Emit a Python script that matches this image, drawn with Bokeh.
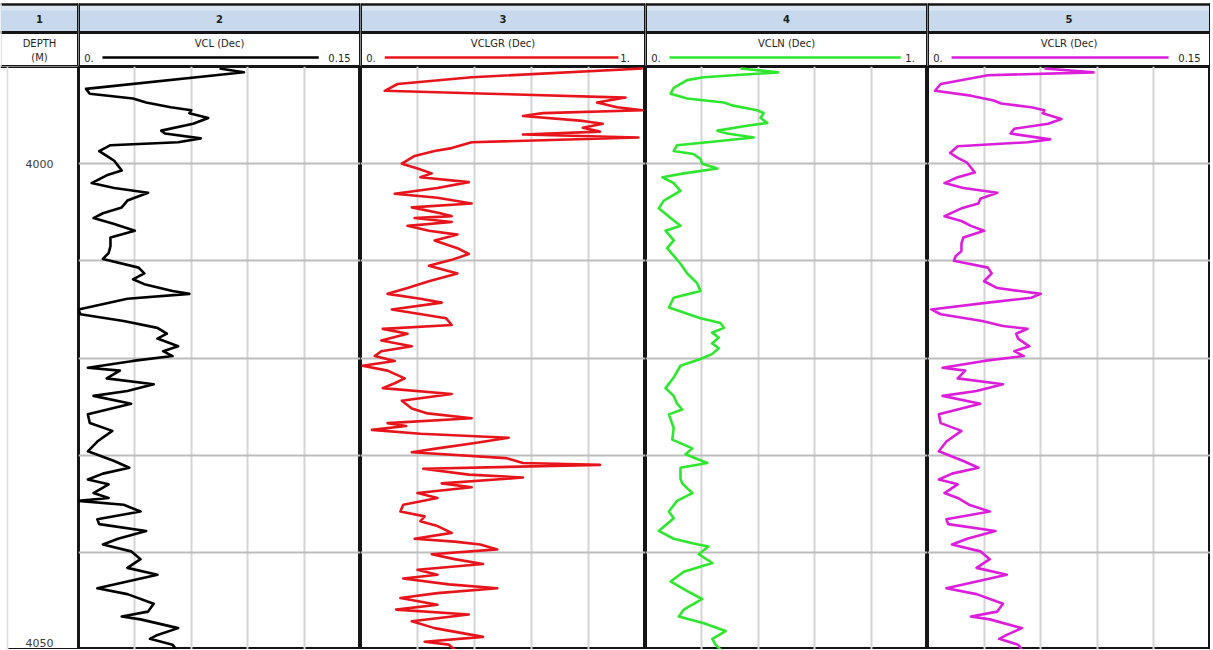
from bokeh.plotting import figure
from bokeh.layouts import row, column
from bokeh.models import Range1d, Grid, FixedTicker
from bokeh.core.properties import value
from bokeh.embed import file_html
from bokeh.resources import INLINE

# ---------------- data ----------------
vcl_depth = [3990.2, 3990.6, 3992.3, 3992.8, 3993.3, 3993.7, 3994.2, 3994.5, 3994.8, 3995.3,
             3995.9, 3996.6, 3996.9, 3997.4, 3997.8, 3998.1, 3998.7, 3999.2, 3999.7, 4000.7,
             4001.2, 4002.0, 4002.5, 4003.0, 4003.8, 4004.5, 4005.1, 4005.6, 4006.2, 4006.9,
             4007.6, 4008.5, 4009.2, 4009.8, 4010.7, 4011.3, 4011.9, 4012.4, 4013.1, 4013.4,
             4013.9, 4015.0, 4015.5, 4016.2, 4016.9, 4017.5, 4018.0, 4018.8, 4019.3, 4019.8,
             4020.3, 4021.0, 4021.3, 4022.1, 4022.7, 4023.4, 4023.9, 4024.7, 4025.8, 4026.7,
             4027.5, 4028.6, 4029.6, 4030.6, 4031.3, 4031.9, 4032.5, 4033.0, 4033.9, 4034.4,
             4034.7, 4035.1, 4035.8, 4036.6, 4037.1, 4037.8, 4038.6, 4039.2, 4039.9, 4040.7,
             4041.6, 4042.3, 4043.0, 4043.7, 4044.3, 4045.3, 4046.1, 4046.6, 4046.9, 4047.8,
             4048.5, 4048.9, 4049.5, 4050.0]
vcl = [0.075, 0.088, 0.004, 0.006, 0.029, 0.036, 0.049, 0.060, 0.059, 0.069,
       0.061, 0.044, 0.046, 0.065, 0.053, 0.017, 0.011, 0.015, 0.019, 0.023,
       0.015, 0.007, 0.019, 0.037, 0.026, 0.023, 0.013, 0.008, 0.019, 0.030,
       0.017, 0.017, 0.016, 0.013, 0.032, 0.035, 0.029, 0.035, 0.050, 0.059,
       0.026, 0.000, 0.001, 0.024, 0.042, 0.047, 0.042, 0.053, 0.045, 0.050,
       0.029, 0.005, 0.022, 0.015, 0.040, 0.026, 0.008, 0.028, 0.005, 0.006,
       0.018, 0.010, 0.005, 0.019, 0.027, 0.013, 0.005, 0.016, 0.008, 0.016,
       0.000, 0.024, 0.033, 0.010, 0.011, 0.036, 0.021, 0.013, 0.028, 0.033,
       0.026, 0.042, 0.026, 0.010, 0.026, 0.040, 0.037, 0.023, 0.033, 0.053,
       0.042, 0.038, 0.050, 0.052]

vclgr_depth = [3990.2, 3991.1, 3991.8, 3992.5, 3992.8, 3993.2, 3993.7, 3994.2, 3994.5, 3994.8,
               3995.1, 3995.6, 3995.9, 3996.3, 3996.7, 3997.0, 3997.3, 3997.8, 3998.4, 3998.7,
               3999.2, 4000.0, 4000.5, 4001.0, 4001.4, 4001.9, 4002.5, 4003.1, 4003.5, 4004.1,
               4004.5, 4005.1, 4005.4, 4005.6, 4006.0, 4006.4, 4006.9, 4007.3, 4007.9, 4008.7,
               4009.3, 4009.9, 4010.5, 4011.3, 4012.1, 4012.8, 4013.4, 4013.9, 4014.3, 4015.0,
               4015.9, 4016.6, 4017.0, 4017.5, 4018.2, 4018.8, 4019.3, 4019.8, 4020.3, 4020.8,
               4021.3, 4022.1, 4022.6, 4023.1, 4023.7, 4024.4, 4025.2, 4025.7, 4026.2, 4026.7,
               4027.0, 4027.4, 4027.8, 4028.2, 4028.8, 4029.3, 4029.7, 4030.3, 4030.8, 4031.0,
               4031.4, 4032.0, 4032.3, 4032.9, 4033.3, 4033.9, 4034.4, 4035.1, 4035.8, 4036.3,
               4036.8, 4037.3, 4038.0, 4038.6, 4038.9, 4039.2, 4039.7, 4040.2, 4040.7, 4041.2,
               4041.8, 4042.3, 4042.7, 4043.3, 4043.7, 4044.2, 4044.7, 4045.4, 4045.9, 4046.4,
               4047.1, 4047.8, 4048.7, 4049.2, 4049.5, 4050.0]
vclgr = [0.99, 0.39, 0.13, 0.085, 0.45, 0.93, 0.83, 0.90, 0.99, 0.64,
         0.57, 0.78, 0.85, 0.78, 0.84, 0.57, 0.975, 0.39, 0.32, 0.26,
         0.19, 0.145, 0.20, 0.25, 0.21, 0.38, 0.27, 0.12, 0.27, 0.39,
         0.18, 0.28, 0.32, 0.19, 0.32, 0.165, 0.24, 0.34, 0.26, 0.34,
         0.38, 0.32, 0.24, 0.34, 0.24, 0.165, 0.095, 0.21, 0.285, 0.11,
         0.30, 0.32, 0.078, 0.165, 0.073, 0.18, 0.073, 0.05, 0.12, 0.007,
         0.095, 0.155, 0.12, 0.078, 0.32, 0.145, 0.18, 0.235, 0.39, 0.095,
         0.16, 0.04, 0.21, 0.52, 0.39, 0.27, 0.18, 0.51, 0.57, 0.84,
         0.22, 0.38, 0.57, 0.285, 0.39, 0.20, 0.27, 0.15, 0.14, 0.225,
         0.21, 0.27, 0.32, 0.19, 0.33, 0.42, 0.48, 0.25, 0.33, 0.43,
         0.20, 0.27, 0.15, 0.31, 0.48, 0.27, 0.14, 0.27, 0.125, 0.38,
         0.18, 0.26, 0.43, 0.225, 0.31, 0.33]

vcln_depth = [3990.2, 3990.6, 3991.1, 3991.4, 3992.2, 3992.8, 3993.3, 3993.7, 3994.0, 3994.5,
              3994.8, 3995.3, 3995.8, 3996.1, 3996.6, 3996.9, 3997.3, 3997.8, 3998.1, 3998.7,
              3999.0, 3999.5, 4000.0, 4000.5, 4001.0, 4001.4, 4002.0, 4002.8, 4003.8, 4004.6,
              4005.6, 4006.4, 4006.9, 4007.9, 4008.7, 4009.3, 4010.3, 4011.3, 4012.3, 4013.1,
              4013.8, 4014.8, 4015.9, 4016.4, 4016.9, 4017.4, 4017.9, 4018.5, 4019.0, 4019.6,
              4020.1, 4020.8, 4022.0, 4023.1, 4023.9, 4024.7, 4025.3, 4025.8, 4027.2, 4028.4,
              4029.3, 4029.9, 4030.8, 4031.3, 4032.4, 4032.9, 4033.9, 4034.7, 4035.8, 4036.5,
              4037.8, 4038.6, 4039.1, 4039.4, 4040.2, 4041.1, 4042.0, 4043.0, 4044.0, 4044.8,
              4045.9, 4046.6, 4047.3, 4048.1, 4048.9, 4049.5, 4050.0]
vcln = [0.337, 0.47, 0.206, 0.148, 0.10, 0.089, 0.148, 0.278, 0.307, 0.396,
        0.419, 0.408, 0.432, 0.36, 0.255, 0.29, 0.384, 0.219, 0.112, 0.10,
        0.17, 0.195, 0.201, 0.255, 0.136, 0.06, 0.10, 0.124, 0.065, 0.047,
        0.089, 0.124, 0.071, 0.10, 0.077, 0.095, 0.124, 0.148, 0.183, 0.195,
        0.10, 0.083, 0.195, 0.266, 0.278, 0.236, 0.26, 0.236, 0.26, 0.236,
        0.195, 0.124, 0.10, 0.071, 0.10, 0.112, 0.13, 0.083, 0.10, 0.095,
        0.166, 0.142, 0.219, 0.124, 0.124, 0.13, 0.166, 0.112, 0.083, 0.10,
        0.047, 0.10, 0.17, 0.223, 0.189, 0.237, 0.136, 0.089, 0.148, 0.201,
        0.136, 0.118, 0.207, 0.284, 0.237, 0.248, 0.266]

vclr_depth = [3990.2, 3990.6, 3990.9, 3991.8, 3992.5, 3993.0, 3993.5, 3993.8, 3994.2, 3994.5,
              3994.8, 3995.4, 3995.9, 3996.4, 3996.9, 3997.5, 3997.8, 3998.2, 3998.9, 3999.4,
              3999.9, 4000.4, 4000.9, 4001.4, 4002.0, 4002.5, 4003.0, 4003.6, 4004.1, 4004.6,
              4005.4, 4005.9, 4006.4, 4006.9, 4007.6, 4008.2, 4009.0, 4009.5, 4010.0, 4010.7,
              4011.3, 4012.1, 4012.8, 4013.4, 4013.8, 4014.3, 4015.0, 4015.5, 4016.2, 4016.7,
              4017.0, 4017.5, 4018.0, 4018.8, 4019.3, 4019.8, 4020.3, 4021.0, 4021.3, 4022.1,
              4022.7, 4023.4, 4023.9, 4024.7, 4025.8, 4026.7, 4027.5, 4028.6, 4029.6, 4030.6,
              4031.3, 4031.9, 4032.5, 4033.0, 4033.9, 4034.4, 4035.1, 4035.8, 4036.6, 4037.1,
              4037.8, 4038.6, 4039.2, 4039.9, 4040.7, 4041.6, 4042.3, 4043.0, 4043.7, 4044.3,
              4045.3, 4046.1, 4046.6, 4046.9, 4047.8, 4048.5, 4048.9, 4049.5, 4050.0]
vclr = [0.062, 0.088, 0.032, 0.007, 0.004, 0.023, 0.035, 0.039, 0.055, 0.062,
        0.061, 0.071, 0.064, 0.046, 0.044, 0.065, 0.053, 0.016, 0.012, 0.016,
        0.021, 0.023, 0.025, 0.016, 0.009, 0.019, 0.037, 0.028, 0.027, 0.018,
        0.009, 0.018, 0.023, 0.030, 0.019, 0.018, 0.018, 0.015, 0.014, 0.032,
        0.034, 0.030, 0.037, 0.060, 0.055, 0.032, 0.002, 0.007, 0.029, 0.040,
        0.053, 0.047, 0.048, 0.054, 0.046, 0.051, 0.030, 0.008, 0.020, 0.016,
        0.040, 0.026, 0.008, 0.028, 0.006, 0.007, 0.018, 0.010, 0.006, 0.019,
        0.027, 0.013, 0.006, 0.016, 0.009, 0.016, 0.022, 0.033, 0.010, 0.011,
        0.036, 0.021, 0.013, 0.028, 0.033, 0.026, 0.042, 0.026, 0.010, 0.026,
        0.040, 0.037, 0.023, 0.033, 0.050, 0.042, 0.038, 0.048, 0.050]

track_numbers = ["1", "2", "3", "4", "5"]
depth_header = ["DEPTH", "(M)"]
curve_names = ["VCL (Dec)", "VCLGR (Dec)", "VCLN (Dec)", "VCLR (Dec)"]
scale_left = ["0.", "0.", "0.", "0."]
scale_right = ["0.15", "1.", "1.", "0.15"]
scale_max = [0.15, 1.0, 1.0, 0.15]
depth_top = 3990
depth_bottom = 4050
depth_grid = [4000, 4010, 4020, 4030, 4040]
depth_labels = [4000, 4050]

curves = [(vcl_depth, vcl), (vclgr_depth, vclgr), (vcln_depth, vcln), (vclr_depth, vclr)]
colors = ["#000000", "#e8141c", "#2ee62e", "#dc1ddc"]
line_ends = [0.852, 0.905, 0.905, 0.852]
right_pos = [0.965, 0.945, 0.955, 0.965]

# ---------------- layout ----------------
FONT = value("DejaVu Sans")
HEAD_H = 66
DATA_H = 583
widths = [78, 282, 285, 282, 283]
BAND = "#c8d9ee"
DARK = "#151515"
TXT = "#1e1e1e"


def base_fig(w, h, xr, yr, outline=True):
    p = figure(width=w, height=h, x_range=xr, y_range=yr, toolbar_location=None,
               output_backend="svg", min_border=0, x_axis_type=None, y_axis_type=None,
               outline_line_color=DARK if outline else None, outline_line_width=3,
               background_fill_color="white", border_fill_color="white")
    return p


def header_fig(w, number, left_border=True):
    p = base_fig(w, HEAD_H, Range1d(0, 1), Range1d(HEAD_H, 0), outline=False)
    p.quad(left=0, right=1, top=5.5, bottom=30.5, fill_color=BAND, line_color=None)
    p.quad(left=0, right=1, top=5.5, bottom=10, fill_color="#d9e5f3", line_color=None)
    p.segment(x0=0, x1=1, y0=4, y1=4, line_color=DARK, line_width=2.5)
    p.segment(x0=0, x1=1, y0=32, y1=32, line_color=DARK, line_width=3)
    p.segment(x0=0, x1=1, y0=HEAD_H, y1=HEAD_H, line_color=DARK, line_width=3)
    p.segment(x0=1, x1=1, y0=3, y1=HEAD_H, line_color=DARK, line_width=3)
    if left_border:
        p.segment(x0=0, x1=0, y0=3, y1=HEAD_H, line_color=DARK, line_width=3)
    else:
        p.segment(x0=0.01, x1=0.01, y0=3, y1=HEAD_H, line_color="#d8d8d8", line_width=1)
    p.text(x=[0.5], y=[18.5], text=[number], text_align="center", text_baseline="middle",
           text_font=FONT, text_font_size="10px", text_font_style="bold", text_color=TXT)
    return p


heads = []
datas = []
yrange = Range1d(depth_bottom, depth_top)

# depth track
h = header_fig(widths[0], track_numbers[0], left_border=False)
h.text(x=[0.5, 0.5], y=[43, 56.5], text=depth_header, text_align="center",
       text_baseline="middle", text_font=FONT, text_font_size="10px", text_color=TXT)
heads.append(h)
d = base_fig(widths[0], DATA_H, Range1d(0, 1), yrange, outline=False)
d.segment(x0=[1], x1=[1], y0=[depth_top], y1=[depth_bottom], line_color=DARK, line_width=3)
d.segment(x0=[0], x1=[1], y0=[depth_top], y1=[depth_top], line_color=DARK, line_width=3)
d.segment(x0=[0.1], x1=[1], y0=[depth_bottom], y1=[depth_bottom], line_color=DARK, line_width=3)
d.segment(x0=[0.09], x1=[0.09], y0=[depth_top], y1=[depth_bottom], line_color="#dcdcdc",
          line_width=1.5)
d.text(x=[0.5] * len(depth_labels), y=depth_labels, text=[str(v) for v in depth_labels],
       text_align="center", text_baseline=["middle", "bottom"], y_offset=[0, -3],
       text_font=FONT, text_font_size="11px", text_color="#3a3a3a")
datas.append(d)

for i in range(4):
    h = header_fig(widths[i + 1], track_numbers[i + 1])
    h.text(x=[0.5], y=[43], text=[curve_names[i]], text_align="center",
           text_baseline="middle", text_font=FONT, text_font_size="10px", text_color=TXT)
    h.text(x=[0.02], y=[57], text=[scale_left[i]], text_align="left",
           text_baseline="middle", text_font=FONT, text_font_size="10px", text_color=TXT)
    h.text(x=[right_pos[i]], y=[57], text=[scale_right[i]], text_align="right",
           text_baseline="middle", text_font=FONT, text_font_size="10px", text_color=TXT)
    h.segment(x0=[0.085], x1=[line_ends[i]], y0=[57], y1=[57], line_color=colors[i],
              line_width=2.5)
    heads.append(h)

    xmax = scale_max[i]
    d = base_fig(widths[i + 1], DATA_H, Range1d(0, xmax), yrange)
    d.add_layout(Grid(dimension=0, ticker=FixedTicker(ticks=[xmax * k / 5 for k in range(1, 5)]),
                      grid_line_color="#d4d4d4", grid_line_width=2))
    d.add_layout(Grid(dimension=1, ticker=FixedTicker(ticks=depth_grid),
                      grid_line_color="#bdbdbd", grid_line_width=2))
    dep, val = curves[i]
    d.line(x=val, y=dep, line_color=colors[i], line_width=2.6, line_join="round")
    datas.append(d)

layout = column(row(*heads, spacing=0), row(*datas, spacing=0), spacing=0)

with open("out.html", "w") as f:
    f.write(file_html(layout, INLINE))
